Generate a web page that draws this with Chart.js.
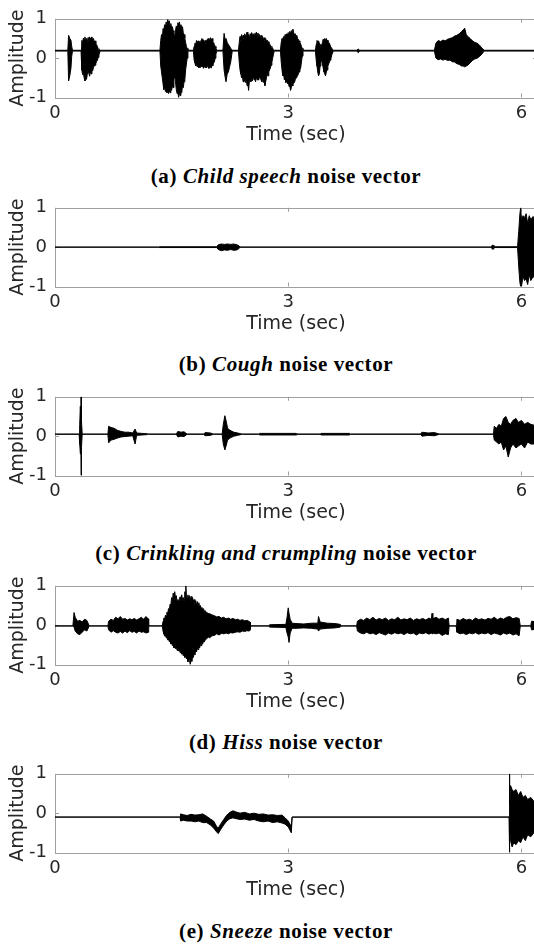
<!DOCTYPE html>
<html>
<head>
<meta charset="utf-8">
<script src="https://cdn.jsdelivr.net/npm/chart.js@4.4.1/dist/chart.umd.min.js"></script>
<style>
  html, body { margin: 0; padding: 0; background: #fff; overflow: hidden; }
  #page { position: relative; width: 534px; height: 947px; overflow: hidden; }
  .panel { position: absolute; left: 0; width: 540px; height: 150px; }
  .cap {
    position: absolute; left: 286px; transform: translate(-50%, -50%);
    white-space: nowrap; font-family: "Liberation Serif", serif;
    font-weight: bold; font-size: 21px; letter-spacing: 0.6px; color: #000;
  }
</style>
</head>
<body>
<div id="page"></div>
<script>
// tick labels (same on every panel)
const xTicks = [0, 3, 6];
const yTicks = [-1, 0, 1];

// (a) child speech: time (s), upper envelope, lower envelope
const childT  = [0, 0.165, 0.175, 0.19, 0.205, 0.215, 0.225,
                 0.335, 0.345, 0.355, 0.365, 0.375, 0.385, 0.395, 0.405, 0.415, 0.425, 0.435, 0.445, 0.455, 0.465, 0.475, 0.485, 0.495, 0.505, 0.515, 0.525, 0.535, 0.545, 0.555, 0.565, 0.58,
                 1.35, 1.36, 1.37, 1.38, 1.39, 1.40, 1.41, 1.42, 1.43, 1.44, 1.45, 1.46, 1.47, 1.48, 1.49, 1.50, 1.51, 1.52, 1.53, 1.54,
                 1.55, 1.56, 1.57, 1.58, 1.59, 1.60, 1.61, 1.62, 1.63, 1.64, 1.65, 1.66, 1.67, 1.68, 1.69, 1.70, 1.71,
                 1.78, 1.79, 1.80, 1.81, 1.82, 1.83, 1.84, 1.85, 1.86, 1.87, 1.88, 1.89, 1.90, 1.91, 1.92, 1.93, 1.94, 1.95, 1.96, 1.97,
                 1.98, 1.99, 2.00, 2.01, 2.02, 2.03, 2.04, 2.05, 2.06, 2.07, 2.08,
                 2.16, 2.175, 2.19, 2.20, 2.215, 2.23, 2.26, 2.28,
                 2.36, 2.37, 2.38, 2.39, 2.40, 2.41, 2.42, 2.43, 2.44, 2.45, 2.46, 2.47, 2.48, 2.49, 2.50, 2.51, 2.52, 2.53, 2.54, 2.55,
                 2.56, 2.57, 2.58, 2.59, 2.60, 2.61, 2.62, 2.63, 2.64, 2.65, 2.66, 2.67, 2.68, 2.69, 2.70, 2.71, 2.72, 2.73, 2.74, 2.75,
                 2.76, 2.77, 2.78, 2.79, 2.80, 2.81, 2.82,
                 2.90, 2.91, 2.92, 2.93, 2.94, 2.95, 2.96, 2.97, 2.98, 2.99, 3.00, 3.01, 3.02, 3.03, 3.04, 3.05, 3.06, 3.07, 3.08, 3.09,
                 3.10, 3.11, 3.12, 3.13, 3.14, 3.15, 3.16, 3.17, 3.18, 3.19,
                 3.35, 3.36, 3.37, 3.38, 3.39, 3.40, 3.41, 3.42, 3.43, 3.44, 3.45, 3.46, 3.47, 3.48, 3.49, 3.50, 3.51, 3.52, 3.53, 3.54,
                 3.55, 3.56, 3.58,
                 3.88, 3.90, 3.92,
                 4.88, 4.90, 4.93, 4.96, 4.99, 5.02, 5.05, 5.08, 5.11, 5.14, 5.17, 5.20, 5.23, 5.25, 5.27, 5.29, 5.31, 5.34, 5.37, 5.40,
                 5.43, 5.46, 5.49, 5.52, 6.2];
const childHi = [.2, .2, .58, .5, .46, .3, .2,
                 .2, .45, .4, .51, .45, .54, .42, .5, .4, .52, .45, .54, .48, .52, .54, .46, .5, .42, .44, .36, .34, .3, .24, .22, .2,
                 .2, .45, .6, .5, .75, .7, .85, .8, .92, .85, .98, .9, .95, .8, .88, .75, .8, .7, .65, .5,
                 .7, .82, .78, .9, .85, .92, .8, .85, .75, .8, .65, .6, .5, .4, .3, .25, .2,
                 .2, .3, .38, .34, .45, .4, .44, .36, .42, .38, .46, .5, .42, .47, .4, .45, .38, .44, .48, .5,
                 .44, .47, .52, .46, .5, .42, .4, .35, .3, .25, .2,
                 .2, .63, .45, .5, .4, .35, .25, .2,
                 .2, .4, .55, .45, .6, .52, .58, .5, .62, .55, .6, .66, .56, .6, .5, .62, .55, .65, .58, .62,
                 .55, .63, .6, .66, .58, .64, .55, .6, .5, .58, .52, .55, .48, .52, .45, .5, .42, .46, .4, .42,
                 .36, .33, .3, .28, .25, .22, .2,
                 .2, .4, .5, .45, .55, .5, .6, .55, .62, .58, .65, .6, .68, .62, .7, .66, .74, .65, .6, .62,
                 .55, .58, .5, .48, .44, .4, .36, .3, .25, .2,
                 .2, .35, .45, .4, .44, .38, .35, .3, .32, .4, .48, .42, .5, .45, .5, .44, .46, .4, .38, .3,
                 .3, .25, .2,
                 .2, .23, .2,
                 .2, .38, .45, .42, .46, .44, .48, .5, .52, .56, .58, .62, .68, .72, .76, .6, .55, .5, .44, .4,
                 .38, .33, .26, .2, .2];
const childLo = [.18, .18, -.58, -.45, -.26, .05, .18,
                 .18, -.3, -.42, -.38, -.5, -.58, -.48, -.54, -.42, -.3, -.38, -.46, -.35, -.4, -.3, -.32, -.24, -.2, -.18, -.14, -.08, -.06, .02, .08, .18,
                 .18, -.2, -.35, -.5, -.65, -.8, -.7, -.85, -.78, -.88, -.8, -.9, -.82, -.88, -.75, -.82, -.7, -.75, -.55, -.45,
                 -.6, -.8, -.9, -.85, -1.0, -.9, -.95, -.8, -.88, -.7, -.75, -.6, -.55, -.3, -.15, 0, .18,
                 .18, -.05, -.12, -.2, -.16, -.22, -.18, -.25, -.2, -.24, -.18, -.22, -.2, -.26, -.2, -.24, -.18, -.25, -.2, -.22,
                 -.26, -.2, -.24, -.25, -.18, -.2, -.12, -.1, 0, .1, .18,
                 .18, -.3, -.5, -.6, -.4, -.35, -.1, .18,
                 .18, -.1, -.3, -.4, -.5, -.45, -.6, -.52, -.58, -.62, -.5, -.7, -.6, -.82, -.6, -.55, -.6, -.5, -.58, -.45,
                 -.55, -.5, -.6, -.48, -.55, -.5, -.56, -.46, -.52, -.55, -.6, -.5, -.62, -.55, -.7, -.6, -.5, -.42, -.45, -.35,
                 -.3, -.25, -.18, -.1, 0, .1, .18,
                 .18, -.1, -.3, -.45, -.4, -.55, -.5, -.62, -.55, -.65, -.6, -.72, -.7, -.82, -.75, -.68, -.7, -.6, -.62, -.55,
                 -.5, -.48, -.45, -.4, -.35, -.3, -.25, -.1, .05, .18,
                 .18, -.05, -.2, -.35, -.45, -.4, -.2, -.1, -.05, -.15, -.25, -.35, -.4, -.45, -.35, -.3, -.2, -.15, -.1, -.05,
                 0, .08, .18,
                 .18, .14, .18,
                 .18, 0, -.04, -.02, -.05, -.03, -.06, -.05, -.09, -.1, -.14, -.16, -.2, -.2, -.22, -.2, -.18, -.12, -.06, -.02,
                 0, .04, .1, .18, .18];

// (b) cough
const coughT  = [0, 1.33, 1.34, 2.08, 2.10, 2.14, 2.18, 2.22, 2.26, 2.30, 2.34, 2.37, 2.38,
                 5.61, 5.625, 5.635, 5.645, 5.95, 5.965, 5.98, 5.99, 6.00, 6.02, 6.04, 6.06, 6.08, 6.10, 6.12, 6.15, 6.18, 6.2];
const coughHi = [0, 0, .01, .01, .06, .08, .07, .08, .07, .08, .06, .03, 0,
                 0, .05, .05, .01, .01, .4, .85, 1.0, .7, .8, .75, .85, .6, .8, .7, .78, .6, .7];
const coughLo = [0, 0, -.01, -.01, -.06, -.09, -.07, -.08, -.06, -.08, -.07, -.03, 0,
                 0, -.05, -.05, -.01, -.01, -.5, -.9, -1.0, -1.0, -.75, -.85, -.8, -.95, -.7, -.85, -.75, -.8, -.7];

// (c) crinkling and crumpling
const crinkT  = [0, 0.31, 0.318, 0.326, 0.333, 0.336, 0.34, 0.35,
                 0.68, 0.69, 0.72, 0.76, 0.80, 0.85, 0.90, 0.95, 1.00, 1.03, 1.05, 1.12, 1.19, 1.20,
                 1.56, 1.58, 1.62, 1.66, 1.70, 1.91, 1.93, 2.00, 2.04,
                 2.15, 2.165, 2.185, 2.20, 2.22, 2.25, 2.30, 2.35, 2.41,
                 2.62, 2.63, 3.10, 3.11, 3.41, 3.42, 3.79, 3.80, 4.70, 4.72, 4.80, 4.88, 4.95,
                 5.64, 5.65, 5.68, 5.71, 5.74, 5.77, 5.80, 5.83, 5.86, 5.89, 5.93, 5.96, 6.00, 6.04, 6.08, 6.12, 6.16, 6.2];
const crinkHi = [.05, .05, .3, .76, .3, 1, .4, .05,
                 .05, .25, .22, .2, .15, .12, .1, .1, .08, .18, .08, .07, .06, .05,
                 .05, .12, .1, .11, .05, .05, .09, .08, .05,
                 .05, .3, .52, .4, .2, .15, .1, .08, .05,
                 .05, .07, .07, .05, .05, .07, .07, .05, .05, .1, .08, .09, .05,
                 .05, .25, .2, .3, .25, .45, .5, .35, .3, .4, .45, .35, .4, .3, .35, .3, .28, .3];
const crinkLo = [.05, .05, -.2, -.45, -.3, -1, -.3, .05,
                 .05, -.17, -.1, -.08, -.05, -.02, -.01, 0, .01, -.2, .02, .03, .04, .05,
                 .05, -.02, 0, -.01, .05, .05, .01, .02, .05,
                 .05, -.2, -.35, -.25, -.1, -.05, 0, .02, .05,
                 .05, .03, .03, .05, .05, .03, .03, .05, .05, 0, .02, .01, .05,
                 .05, -.1, -.15, -.2, -.15, -.35, -.25, -.53, -.3, -.2, -.3, -.25, -.2, -.3, -.15, -.2, -.2, -.2];

// (d) hiss
const hissT  = [0, 0.23, 0.245, 0.26, 0.29, 0.32, 0.35, 0.38, 0.41, 0.44,
                0.68, 0.69, 0.72, 0.75, 0.78, 0.81, 0.84, 0.87, 0.90, 0.93, 0.96, 0.99, 1.02, 1.05, 1.08, 1.11, 1.14, 1.17, 1.20, 1.205,
                1.38, 1.39, 1.40, 1.41, 1.42, 1.43, 1.44, 1.45, 1.46, 1.47, 1.48, 1.49, 1.50, 1.51, 1.52, 1.53, 1.54, 1.55, 1.56, 1.57,
                1.58, 1.59, 1.60, 1.61, 1.62, 1.63, 1.64, 1.65, 1.66, 1.67, 1.68, 1.683, 1.69, 1.70, 1.71, 1.72, 1.73, 1.74, 1.75, 1.76,
                1.77, 1.78, 1.79, 1.80, 1.81, 1.82, 1.83, 1.84, 1.85, 1.86, 1.87, 1.88, 1.89, 1.90, 1.91, 1.92, 1.93, 1.95, 1.97, 1.99,
                2.02, 2.05, 2.08, 2.11, 2.14, 2.17, 2.20, 2.23, 2.26, 2.29, 2.32, 2.35, 2.38, 2.41, 2.44, 2.47, 2.50, 2.51, 2.515,
                2.75, 2.76, 2.97, 2.985, 3.0, 3.01, 3.025, 3.05, 3.1, 3.2, 3.3, 3.38, 3.39, 3.41, 3.5, 3.6, 3.67, 3.68,
                3.88, 3.89, 3.93, 3.97, 4.01, 4.05, 4.09, 4.13, 4.17, 4.21, 4.25, 4.29, 4.33, 4.37, 4.41, 4.45, 4.49, 4.53, 4.57, 4.61,
                4.65, 4.69, 4.73, 4.77, 4.81, 4.84, 4.85, 4.86, 4.90, 4.94, 4.98, 5.02, 5.06, 5.07,
                5.16, 5.17, 5.21, 5.25, 5.29, 5.33, 5.37, 5.41, 5.45, 5.49, 5.53, 5.57, 5.61, 5.65, 5.69, 5.73, 5.77, 5.81, 5.85, 5.89,
                5.93, 5.97, 5.985, 6.12, 6.13, 6.2];
const hissHi = [-.02, -.02, .32, .2, .1, .12, .08, .15, .12, -.02,
                -.02, .1, .15, .12, .2, .16, .22, .15, .17, .13, .16, .14, .17, .13, .16, .2, .15, .22, .16, -.02,
                -.02, .1, .18, .15, .25, .22, .33, .3, .42, .38, .53, .5, .7, .6, .81, .72, .85, .7, .75, .6,
                .65, .58, .68, .72, .62, .77, .65, .7, .6, .85, .7, 1.0, .75, .68, .77, .65, .75, .6, .73, .62,
                .7, .6, .65, .55, .62, .5, .6, .5, .57, .45, .5, .42, .45, .38, .42, .35, .37, .32, .3, .29,
                .26, .24, .21, .22, .18, .2, .16, .18, .15, .17, .14, .15, .12, .14, .11, .12, .09, .08, -.02,
                -.02, .01, .02, .2, .44, .3, .15, .05, .04, .03, .05, .05, .22, .08, .05, .04, .02, -.02,
                -.02, .1, .15, .12, .18, .14, .2, .13, .17, .14, .18, .12, .16, .14, .2, .13, .16, .14, .18, .12,
                .16, .14, .17, .13, .18, .15, .3, .16, .2, .15, .18, .14, .18, -.02,
                -.02, .15, .12, .17, .13, .15, .12, .18, .14, .16, .13, .17, .15, .2, .14, .18, .15, .2, .22, .16,
                .19, .17, -.02, -.02, .1, .08];
const hissLo = [-.02, -.02, -.05, -.15, -.22, -.24, -.18, -.12, -.15, -.02,
                -.02, -.12, -.18, -.14, -.18, -.2, -.16, -.2, -.15, -.19, -.14, -.18, -.16, -.2, -.15, -.18, -.17, -.2, -.18, -.02,
                -.02, -.15, -.22, -.28, -.25, -.32, -.3, -.38, -.35, -.42, -.4, -.48, -.45, -.52, -.5, -.58, -.55, -.6, -.55, -.64,
                -.6, -.66, -.62, -.7, -.66, -.74, -.7, -.78, -.72, -.82, -.78, -.8, -.86, -.8, -.93, -.85, -.9, -1.0, -.88, -.92,
                -.8, -.82, -.72, -.75, -.65, -.68, -.6, -.62, -.55, -.58, -.5, -.52, -.45, -.48, -.4, -.43, -.38, -.35, -.3, -.32,
                -.27, -.26, -.22, -.25, -.21, -.22, -.2, -.22, -.19, -.2, -.18, -.17, -.18, -.15, -.16, -.14, -.15, -.12, -.02,
                -.02, -.05, -.06, -.2, -.3, -.44, -.2, -.08, -.08, -.07, -.08, -.1, -.15, -.1, -.08, -.07, -.05, -.02,
                -.02, -.15, -.2, -.22, -.18, -.22, -.2, -.24, -.19, -.22, -.25, -.2, -.23, -.19, -.22, -.2, -.24, -.19, -.22, -.2,
                -.25, -.2, -.22, -.19, -.23, -.2, -.22, -.2, -.22, -.2, -.26, -.22, -.24, -.02,
                -.02, -.18, -.22, -.2, -.24, -.2, -.22, -.19, -.23, -.2, -.22, -.19, -.24, -.2, -.22, -.25, -.2, -.23, -.2, -.25,
                -.22, -.27, -.02, -.02, -.12, -.1];

// (e) sneeze
const sneezeT  = [0, 1.61, 1.615, 1.65, 1.70, 1.75, 1.80, 1.85, 1.90, 1.95, 2.00, 2.04, 2.08, 2.10, 2.13, 2.17, 2.21, 2.25, 2.29, 2.33,
                  2.38, 2.44, 2.50, 2.56, 2.62, 2.68, 2.74, 2.80, 2.86, 2.92, 2.96, 3.00, 3.04, 3.05,
                  5.84, 5.845, 5.85, 5.86, 5.88, 5.90, 5.93, 5.96, 5.99, 6.02, 6.05, 6.08, 6.12, 6.16, 6.2];
const sneezeHi = [-.1, -.1, -.02, -.04, -.06, -.03, -.05, -.04, -.02, -.08, -.15, -.2, -.34, -.38, -.28, -.16, -.05, .02, .06, .03,
                  0, .02, -.02, 0, -.03, -.02, -.05, -.04, -.06, -.05, -.12, -.2, -.34, -.1,
                  -.1, 1, .2, .7, .6, .55, .6, .45, .55, .4, .45, .35, .4, .3, .35];
const sneezeLo = [-.1, -.1, -.2, -.18, -.2, -.2, -.22, -.2, -.24, -.24, -.3, -.38, -.48, -.52, -.42, -.3, -.2, -.14, -.12, -.14,
                  -.16, -.15, -.18, -.16, -.2, -.22, -.2, -.24, -.22, -.25, -.28, -.35, -.5, -.1,
                  -.1, -1, -.4, -.7, -.86, -.75, -.8, -.7, -.75, -.6, -.7, -.55, -.6, -.5, -.55];

const captions = [
  '(a) <i>Child speech</i> noise vector',
  '(b) <i>Cough</i> noise vector',
  '(c) <i>Crinkling and crumpling</i> noise vector',
  '(d) <i>Hiss</i> noise vector',
  '(e) <i>Sneeze</i> noise vector'
];

const series = [
  [childT, childHi, childLo],
  [coughT, coughHi, coughLo],
  [crinkT, crinkHi, crinkLo],
  [hissT, hissHi, hissLo],
  [sneezeT, sneezeHi, sneezeLo]
];

const plotTops = [14, 202.5, 391.5, 580.5, 769];
const textCol = '#262626';
const boxCol = '#a0a0a0';

// matlab style box with inward ticks
const boxPlugin = {
  id: 'box',
  beforeDatasetsDraw(chart) {
    const {ctx, chartArea: a, scales} = chart;
    ctx.save();
    ctx.strokeStyle = boxCol;
    ctx.lineWidth = 1;
    ctx.strokeRect(Math.round(a.left) + 0.5, Math.round(a.top) + 0.5, Math.round(a.right - a.left), Math.round(a.bottom - a.top));
    ctx.beginPath();
    xTicks.forEach(v => {
      const px = Math.round(scales.x.getPixelForValue(v)) + 0.5;
      ctx.moveTo(px, a.top); ctx.lineTo(px, a.top + 4);
      ctx.moveTo(px, a.bottom); ctx.lineTo(px, a.bottom - 4);
    });
    yTicks.forEach(v => {
      const py = Math.round(scales.y.getPixelForValue(v)) + 0.5;
      ctx.moveTo(a.left, py); ctx.lineTo(a.left + 4, py);
      ctx.moveTo(a.right, py); ctx.lineTo(a.right - 4, py);
    });
    ctx.stroke();
    ctx.restore();
  }
};

const page = document.getElementById('page');

series.forEach(([t, hi, lo], i) => {
  const wrap = document.createElement('div');
  wrap.className = 'panel';
  wrap.style.top = (plotTops[i] - 14) + 'px';
  const cv = document.createElement('canvas');
  cv.width = 540; cv.height = 150;
  wrap.appendChild(cv);
  page.appendChild(wrap);

  const cap = document.createElement('div');
  cap.className = 'cap';
  cap.style.top = (plotTops[i] + 161.5) + 'px';
  cap.innerHTML = captions[i];
  page.appendChild(cap);

  new Chart(cv.getContext('2d'), {
    type: 'line',
    data: {
      datasets: [
        { data: t.map((x, k) => ({x, y: hi[k]})), borderColor: '#000', borderWidth: 1, pointRadius: 0, fill: false },
        { data: t.map((x, k) => ({x, y: lo[k]})), borderColor: '#000', borderWidth: 1, pointRadius: 0,
          backgroundColor: '#000', fill: '-1' }
      ]
    },
    options: {
      responsive: false,
      animation: false,
      events: [],
      layout: { padding: { top: 14, right: 3, left: 0, bottom: 0 } },
      plugins: { legend: { display: false }, tooltip: { enabled: false } },
      scales: {
        x: {
          type: 'linear', min: 0, max: 6.2,
          afterBuildTicks: s => { s.ticks = xTicks.map(v => ({value: v})); },
          afterFit: s => { s.height = 52.5; },
          grid: { display: false, drawTicks: false },
          border: { display: false },
          ticks: { color: textCol, padding: 5, maxRotation: 0, autoSkip: false,
                   font: { family: 'DejaVu Sans', size: 18 }, callback: v => String(v) },
          title: { display: true, text: 'Time (sec)', color: textCol,
                   font: { family: 'DejaVu Sans', size: 19 }, padding: { top: 0, bottom: 3.6 } }
        },
        y: {
          min: -1, max: 1,
          afterBuildTicks: s => { s.ticks = yTicks.map(v => ({value: v})); },
          afterFit: s => { s.width = 55; },
          grid: { display: false, drawTicks: false },
          border: { display: false },
          ticks: { color: textCol, padding: 8, autoSkip: false,
                   font: { family: 'DejaVu Sans', size: 18 }, callback: v => String(v) },
          title: { display: true, text: 'Amplitude', color: textCol,
                   font: { family: 'DejaVu Sans', size: 19 }, padding: { top: 6.6, bottom: 0 } }
        }
      }
    },
    plugins: [boxPlugin]
  });
});
</script>
</body>
</html>
